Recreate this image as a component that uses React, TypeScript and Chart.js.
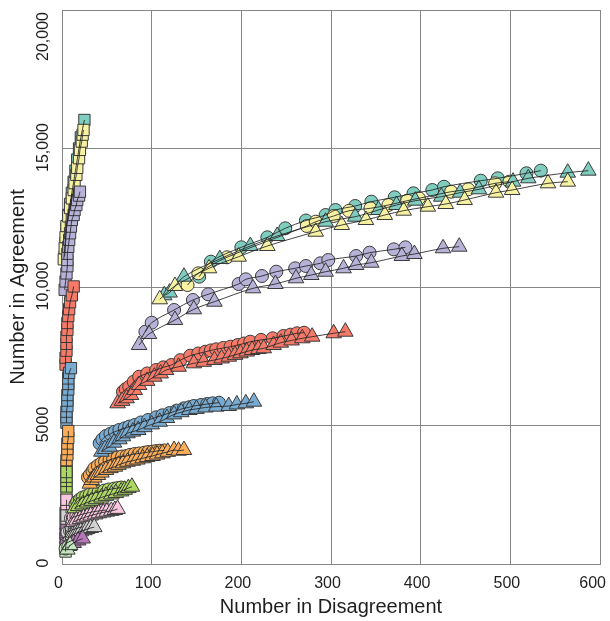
import React, { useEffect, useRef } from 'react';
import { Chart, registerables } from 'chart.js';

Chart.register(...registerables);

type Pt = [number, number];

const X_TICKS = [0, 100, 200, 300, 400, 500, 600];
const X_TICK_LABELS = ['0', '100', '200', '300', '400', '500', '600'];
const Y_TICKS = [0, 5000, 10000, 15000, 20000];
const Y_TICK_LABELS = ['0', '5000', '10,000', '15,000', '20,000'];
const X_TITLE = 'Number in Disagreement';
const Y_TITLE = 'Number in Agreement';

const GROUP_COLORS = ['#7fcdbf', '#f6f2a2', '#b6b2d8', '#f77a69', '#78abd2', '#fbad58', '#abd762', '#f8c6df', '#d2d2d2', '#b877b9', '#c4e6bd'];

// teal
const tealSquares: Pt[] = [[3, 11100], [4, 11600], [5, 12100], [7, 12600], [9, 13000], [11, 13400], [13, 13800], [15, 14200], [17, 14600], [19, 15000], [21, 15400], [25, 16030]];
const tealCircles: Pt[] = [[153, 10372], [166, 10913], [200, 11433], [229, 11794], [249, 12119], [272, 12400], [294, 12599], [305, 12780], [327, 12924], [345, 13080], [371, 13238], [392, 13382], [413, 13502], [426, 13620], [467, 13838], [486, 13924], [518, 14105], [534, 14200]];
const tealTriangles: Pt[] = [[114, 9700], [120, 9800], [136, 10372], [176, 11010], [210, 11480], [240, 11841], [294, 12357], [327, 12538], [353, 12780], [373, 12960], [394, 13116], [423, 13260], [444, 13405], [465, 13527], [503, 13802], [520, 13924], [564, 14127], [587, 14200]];
// yellow
const yellowSquares: Pt[] = [[2, 11000], [3, 11400], [4, 11800], [5, 12200], [7, 12550], [9, 12850], [11, 13200], [13, 13500], [14, 13750], [16, 14050], [17, 14300], [19, 14650], [20, 14950], [22, 15250], [23, 15500], [24, 15670]];
const yellowCircles: Pt[] = [[140, 10072], [152, 10494], [184, 11072], [273, 12202], [283, 12357], [303, 12563], [320, 12750], [344, 12841], [364, 12960], [385, 13116], [398, 13202], [434, 13440], [453, 13527], [483, 13743], [499, 13802]];
const yellowTriangles: Pt[] = [[109, 9556], [126, 10036], [164, 10675], [197, 11094], [229, 11480], [283, 11996], [312, 12238], [339, 12419], [360, 12600], [381, 12755], [408, 12900], [428, 12996], [449, 13141], [484, 13405], [502, 13502], [542, 13743], [564, 13802]];
// lavender
const lavenderSquares: Pt[] = [[3, 9900], [4, 10200], [5, 10490], [6, 10750], [6, 10975], [6, 11200], [7, 11450], [8, 11700], [9, 11940], [10, 12180], [11, 12420], [13, 12600], [14, 12780], [16, 12960], [17, 13140], [19, 13300], [20, 13440]];
const lavenderCircles: Pt[] = [[93, 8386], [100, 8711], [125, 9170], [146, 9531], [163, 9737], [197, 10108], [205, 10278], [223, 10397], [239, 10552], [260, 10675], [272, 10758], [288, 10855], [297, 10975], [328, 11119], [343, 11239], [370, 11360], [383, 11433]];
const lavenderTriangles: Pt[] = [[86, 7906], [97, 8303], [126, 8809], [147, 9195], [170, 9469], [213, 9953], [238, 10108], [261, 10314], [278, 10433], [294, 10552], [314, 10675], [328, 10794], [345, 10877], [379, 11119], [393, 11191], [425, 11397], [443, 11455]];
// red
const redSquares: Pt[] = [[4, 7200], [4, 7450], [5, 7700], [5, 7950], [5, 8200], [6, 8450], [6, 8700], [7, 8950], [8, 9200], [9, 9450], [11, 9700], [13, 10020]];
const redCircles: Pt[] = [[68, 6220], [71, 6310], [75, 6400], [80, 6580], [86, 6762], [95, 6880], [105, 7003], [113, 7100], [122, 7184], [132, 7360], [143, 7520], [152, 7600], [160, 7664], [166, 7710], [172, 7751], [180, 7800], [188, 7845], [196, 7906], [203, 7960], [210, 8025], [222, 8090], [235, 8148], [247, 8231], [255, 8280], [262, 8329], [270, 8350]];
const redTriangles: Pt[] = [[62, 5801], [67, 5890], [72, 5982], [77, 6100], [81, 6280], [86, 6462], [95, 6610], [103, 6762], [110, 6880], [116, 7003], [130, 7120], [147, 7245], [158, 7300], [170, 7365], [178, 7420], [186, 7484], [193, 7550], [199, 7606], [206, 7670], [212, 7726], [219, 7760], [225, 7787], [236, 7906], [244, 7990], [256, 8070], [268, 8148], [279, 8206], [303, 8329], [316, 8386]];
// blue
const blueSquares: Pt[] = [[5, 5100], [5, 5300], [5, 5500], [6, 5700], [6, 5900], [6, 6100], [7, 6300], [7, 6500], [7, 6700], [8, 6900], [10, 7070]];
const blueCircles: Pt[] = [[42, 4357], [45, 4500], [49, 4621], [54, 4700], [59, 4776], [64, 4840], [70, 4899], [75, 4960], [81, 5018], [88, 5110], [96, 5199], [105, 5296], [112, 5370], [120, 5450], [128, 5540], [136, 5620], [142, 5660], [147, 5704], [155, 5740], [162, 5776], [168, 5800], [175, 5823]];
const blueTriangles: Pt[] = [[44, 4054], [48, 4150], [53, 4235], [58, 4380], [64, 4502], [68, 4610], [73, 4718], [79, 4780], [85, 4838], [92, 4940], [100, 5040], [109, 5137], [117, 5270], [125, 5400], [133, 5480], [142, 5560], [150, 5600], [160, 5650], [172, 5680], [186, 5704], [195, 5760], [205, 5801], [214, 5859]];
// orange
const orangeSquares: Pt[] = [[5, 3350], [5, 3550], [5, 3750], [6, 3950], [6, 4150], [6, 4350], [7, 4550], [7, 4800]];
const orangeCircles: Pt[] = [[29, 3130], [31, 3213], [34, 3350], [36, 3455], [40, 3550], [44, 3635], [48, 3700], [53, 3755], [57, 3800], [62, 3852], [67, 3880], [72, 3899], [76, 3940], [81, 3971], [86, 3990], [92, 4018], [96, 4040], [101, 4054], [105, 4075], [109, 4090], [114, 4100]];
const orangeTriangles: Pt[] = [[31, 2900], [33, 3032], [36, 3120], [40, 3213], [44, 3300], [49, 3393], [54, 3460], [59, 3513], [63, 3580], [68, 3635], [73, 3690], [79, 3729], [84, 3770], [90, 3816], [95, 3860], [101, 3899], [106, 3950], [112, 3996], [118, 4050], [125, 4115], [130, 4090], [136, 4115]];
// green
const greenSquares: Pt[] = [[5, 2600], [5, 2800], [5, 3000], [5, 3150], [5, 3320]];
const greenCircles: Pt[] = [[15, 2150], [17, 2250], [20, 2330], [23, 2400], [27, 2450], [31, 2510], [36, 2560], [41, 2610], [47, 2650], [52, 2690], [58, 2720], [62, 2740], [66, 2760]];
const greenTriangles: Pt[] = [[14, 2011], [18, 2090], [23, 2150], [28, 2220], [33, 2280], [38, 2340], [44, 2400], [49, 2460], [55, 2510], [60, 2560], [66, 2620], [70, 2680], [74, 2740], [78, 2790]];
// pink
const pinkSquares: Pt[] = [[4, 1850], [5, 2000], [5, 2150], [5, 2320]];
const pinkCircles: Pt[] = [[10, 1650], [13, 1690], [16, 1730], [20, 1770], [23, 1800], [27, 1830], [31, 1860], [35, 1890], [40, 1910], [45, 1930], [50, 1950]];
const pinkTriangles: Pt[] = [[13, 1520], [16, 1570], [20, 1620], [24, 1670], [28, 1710], [32, 1750], [37, 1790], [41, 1830], [46, 1860], [50, 1890], [55, 1920], [59, 1950], [62, 1990]];
// gray
const graySquares: Pt[] = [[4, 1450], [5, 1600], [5, 1750]];
const grayCircles: Pt[] = [[6, 1150], [9, 1200], [11, 1230], [14, 1260], [17, 1290], [20, 1320], [23, 1340]];
const grayTriangles: Pt[] = [[9, 1000], [12, 1050], [15, 1100], [18, 1140], [21, 1180], [25, 1220], [28, 1260], [32, 1300], [36, 1330]];
// purple
const purpleSquares: Pt[] = [[4, 950], [4, 1100], [5, 1230]];
const purpleCircles: Pt[] = [[5, 750], [9, 820], [14, 880]];
const purpleTriangles: Pt[] = [[8, 650], [13, 760], [18, 850], [23, 920]];
// light green
const lightGreenSquares: Pt[] = [[4, 450], [4, 600], [5, 760]];
const lightGreenCircles: Pt[] = [[4, 560], [7, 620]];
const lightGreenTriangles: Pt[] = [[6, 520], [9, 680]];

const GROUPS = [
  { color: GROUP_COLORS[0], squares: tealSquares, circles: tealCircles, triangles: tealTriangles },
  { color: GROUP_COLORS[1], squares: yellowSquares, circles: yellowCircles, triangles: yellowTriangles },
  { color: GROUP_COLORS[2], squares: lavenderSquares, circles: lavenderCircles, triangles: lavenderTriangles },
  { color: GROUP_COLORS[3], squares: redSquares, circles: redCircles, triangles: redTriangles },
  { color: GROUP_COLORS[4], squares: blueSquares, circles: blueCircles, triangles: blueTriangles },
  { color: GROUP_COLORS[5], squares: orangeSquares, circles: orangeCircles, triangles: orangeTriangles },
  { color: GROUP_COLORS[6], squares: greenSquares, circles: greenCircles, triangles: greenTriangles },
  { color: GROUP_COLORS[7], squares: pinkSquares, circles: pinkCircles, triangles: pinkTriangles },
  { color: GROUP_COLORS[8], squares: graySquares, circles: grayCircles, triangles: grayTriangles },
  { color: GROUP_COLORS[9], squares: purpleSquares, circles: purpleCircles, triangles: purpleTriangles },
  { color: GROUP_COLORS[10], squares: lightGreenSquares, circles: lightGreenCircles, triangles: lightGreenTriangles },
];

const FONT = '"Liberation Sans", Arial, Helvetica, sans-serif';
const TEXT_COLOR = '#1e1e1e';
const GRID_COLOR = '#868686';

const tickLabelPlugin = {
  id: 'customTickLabels',
  afterDraw(chart: any) {
    const ctx = chart.ctx as CanvasRenderingContext2D;
    const xs = chart.scales.x;
    const ys = chart.scales.y;
    const area = chart.chartArea;
    ctx.save();
    ctx.fillStyle = TEXT_COLOR;
    ctx.font = `16px ${FONT}`;
    ctx.textAlign = 'center';
    ctx.textBaseline = 'middle';
    X_TICKS.forEach((v, i) => {
      const label = X_TICK_LABELS[i];
      const w = ctx.measureText(label).width;
      let cx = xs.getPixelForValue(v) - 3.5;
      if (cx + w / 2 > chart.width - 4) cx = chart.width - 4 - w / 2;
      ctx.fillText(label, cx, xs.top + 20);
    });
    Y_TICKS.forEach((v, i) => {
      const label = Y_TICK_LABELS[i];
      const w = ctx.measureText(label).width;
      let cy = ys.getPixelForValue(v) - 1;
      if (cy - w / 2 < area.top + 2) cy = area.top + 2 + w / 2;
      ctx.save();
      ctx.translate(ys.right - 18, cy);
      ctx.rotate(-Math.PI / 2);
      ctx.fillText(label, 0, 0);
      ctx.restore();
    });
    ctx.restore();
  },
};

export default function App() {
  const canvasRef = useRef<HTMLCanvasElement | null>(null);

  useEffect(() => {
    if (!canvasRef.current) return;
    const datasets: any[] = [];
    const markers = (pts: Pt[], color: string, style: string, radius: number, order: number) => ({
      data: pts.map(([x, y]) => ({ x, y })),
      showLine: false,
      pointStyle: style,
      pointRadius: radius,
      pointHoverRadius: radius,
      pointBackgroundColor: color,
      pointBorderColor: '#3a3a3a',
      pointBorderWidth: 1,
      clip: false,
      order,
    });
    const line = (pts: Pt[]) => ({
      data: pts.map(([x, y]) => ({ x, y })),
      showLine: true,
      borderColor: 'rgba(35,35,35,0.85)',
      borderWidth: 1,
      tension: 0.35,
      fill: false,
      pointRadius: 0,
      pointHoverRadius: 0,
      clip: false,
      order: 0,
    });
    GROUPS.forEach((g, gi) => {
      datasets.push(markers(g.squares, g.color, 'rect', 8, 300 - gi));
      datasets.push(markers(g.circles, g.color, 'circle', 6.5, 200 - gi));
      datasets.push(markers(g.triangles, g.color, 'triangle', 9, 150 - gi));
    });
    GROUPS.forEach((g) => {
      datasets.push(line(g.squares));
      datasets.push(line(g.circles));
      datasets.push(line(g.triangles));
    });

    const chart = new Chart(canvasRef.current, {
      type: 'scatter',
      data: { datasets },
      options: {
        animation: false,
        responsive: false,
        maintainAspectRatio: false,
        layout: { padding: { left: 0, right: 8, top: 10, bottom: 0 } },
        plugins: { legend: { display: false }, tooltip: { enabled: false } },
        scales: {
          x: {
            type: 'linear',
            min: 0,
            max: 600,
            ticks: { display: false, stepSize: 100 },
            grid: { color: GRID_COLOR, lineWidth: 1, drawTicks: false },
            border: { display: true, color: GRID_COLOR, width: 1 },
            title: { display: true, text: X_TITLE, color: TEXT_COLOR, font: { size: 20, family: FONT }, padding: { top: 0, bottom: 2 } },
            afterFit(s: any) { s.height = 57; s.paddingLeft = 0; s.paddingRight = 0; },
          },
          y: {
            type: 'linear',
            min: 0,
            max: 20000,
            ticks: { display: false, stepSize: 5000 },
            grid: { color: GRID_COLOR, lineWidth: 1, drawTicks: false },
            border: { display: true, color: GRID_COLOR, width: 1 },
            title: { display: true, text: Y_TITLE, color: TEXT_COLOR, font: { size: 20, family: FONT }, padding: { top: 6, bottom: 0 } },
            afterFit(s: any) { s.width = 62; s.paddingTop = 0; s.paddingBottom = 0; },
          },
        },
      } as any,
      plugins: [tickLabelPlugin],
    });
    return () => chart.destroy();
  }, []);

  return (
    <div style={{ position: 'fixed', left: 0, top: 0, width: 610, height: 621, background: '#fff' }}>
      <canvas ref={canvasRef} width={610} height={621} style={{ display: 'block', width: 610, height: 621 }} />
    </div>
  );
}
